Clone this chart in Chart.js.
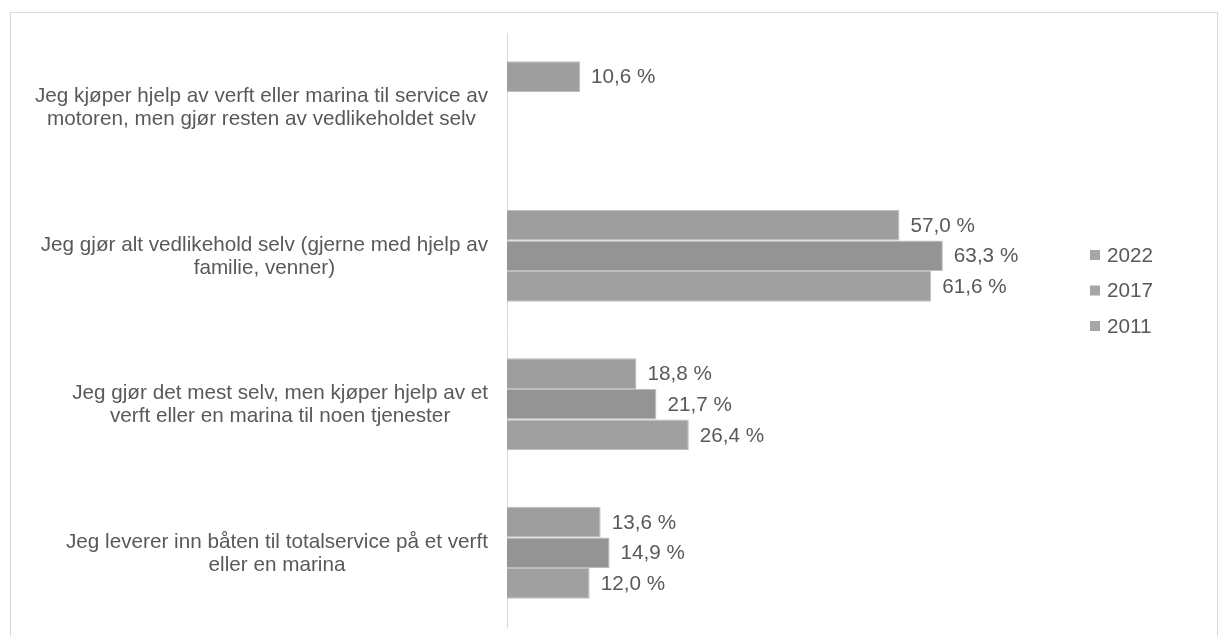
<!DOCTYPE html>
<html><head><meta charset="utf-8">
<script src="https://cdn.jsdelivr.net/npm/chart.js@4.4.0/dist/chart.umd.min.js"></script>
<style>
html,body{margin:0;padding:0;background:#fff;overflow:hidden;}
#wrap{position:relative;width:1230px;height:636px;}
#frame{position:absolute;left:10px;top:12px;width:1208px;height:700px;border:1px solid #d9d9d9;box-sizing:border-box;}
canvas{position:absolute;left:0;top:0;}
</style></head><body>
<div id="wrap"><div id="frame"></div><canvas id="c" width="1230" height="636"></canvas></div>
<script>
// ---- data ----
const categories = [
  ["Jeg kjøper hjelp av verft eller marina til service av", "motoren, men gjør resten av vedlikeholdet selv"],
  ["Jeg gjør alt vedlikehold selv (gjerne med hjelp av", "familie, venner)"],
  ["Jeg gjør det mest selv, men kjøper hjelp av et", "verft eller en marina til noen tjenester"],
  ["Jeg leverer inn båten til totalservice på et verft", "eller en marina"]
];
const seriesNames = ["2022", "2017", "2011"];
const values2022 = [10.6, 57.0, 18.8, 13.6];
const values2017 = [null, 63.3, 21.7, 14.9];
const values2011 = [null, 61.6, 26.4, 12.0];
const axisMin = 0;
const axisMax = 70;

// ---- styles ----
const FONT = '20.7px "Liberation Sans", Arial, sans-serif';
const TEXT = '#595959';
const colors = ['#9e9e9e', '#949494', '#a0a0a0'];

const barLabels = {
  id: 'barLabels',
  afterDatasetsDraw(chart) {
    const ctx = chart.ctx; ctx.save();
    ctx.font = FONT; ctx.fillStyle = TEXT; ctx.textAlign = 'left'; ctx.textBaseline = 'middle';
    chart.data.datasets.forEach((ds, di) => {
      const meta = chart.getDatasetMeta(di);
      meta.data.forEach((el, i) => {
        const v = ds.data[i]; if (v == null) return;
        ctx.fillText(v.toFixed(1).replace('.', ',') + ' %', el.x + 11, el.y + 1);
      });
    });
    ctx.restore();
  }
};

const catLabels = {
  id: 'catLabels',
  afterDraw(chart) {
    const ctx = chart.ctx, y = chart.scales.y; ctx.save();
    ctx.font = FONT; ctx.fillStyle = TEXT; ctx.textAlign = 'center'; ctx.textBaseline = 'middle';
    const right = 488, lh = 23;
    chart.data.labels.forEach((lines, i) => {
      const cy = y.getPixelForTick(i);
      const w = Math.max(...lines.map(l => ctx.measureText(l).width));
      const cx = right - w / 2;
      lines.forEach((l, k) => ctx.fillText(l, cx, cy + (k - (lines.length - 1) / 2) * lh + 1));
    });
    ctx.restore();
  }
};

const legendPlugin = {
  id: 'sideLegend',
  afterDraw(chart) {
    const ctx = chart.ctx; ctx.save();
    ctx.font = FONT; ctx.fillStyle = TEXT; ctx.textAlign = 'left'; ctx.textBaseline = 'middle';
    const x0 = 1090, y0 = 255, step = 35.5;
    chart.data.datasets.forEach((ds, i) => {
      const cy = y0 + i * step;
      ctx.fillStyle = '#a6a6a6';
      ctx.fillRect(x0, cy - 5, 10, 10);
      ctx.fillStyle = TEXT;
      ctx.fillText(ds.label, x0 + 17, cy + 1);
    });
    ctx.restore();
  }
};

new Chart(document.getElementById('c'), {
  type: 'bar',
  data: {
    labels: categories,
    datasets: [
      { label: seriesNames[0], data: values2022, backgroundColor: colors[0] },
      { label: seriesNames[1], data: values2017, backgroundColor: colors[1] },
      { label: seriesNames[2], data: values2011, backgroundColor: colors[2] }
    ].map(d => Object.assign(d, { borderColor: '#bdbdbd', borderWidth: 1, barPercentage: 1, categoryPercentage: 0.62 }))
  },
  options: {
    indexAxis: 'y',
    responsive: false,
    animation: false,
    devicePixelRatio: 1,
    layout: { padding: { left: 0, top: 33, right: 241, bottom: 9 } },
    plugins: { legend: { display: false }, tooltip: { enabled: false } },
    scales: {
      x: { display: false, min: axisMin, max: axisMax },
      y: {
        grid: { display: false, drawTicks: false },
        border: { display: true, color: '#d9d9d9', width: 1 },
        ticks: { display: false },
        afterFit(scale) { scale.width = 507; }
      }
    }
  },
  plugins: [barLabels, catLabels, legendPlugin]
});
</script>
</body></html>
